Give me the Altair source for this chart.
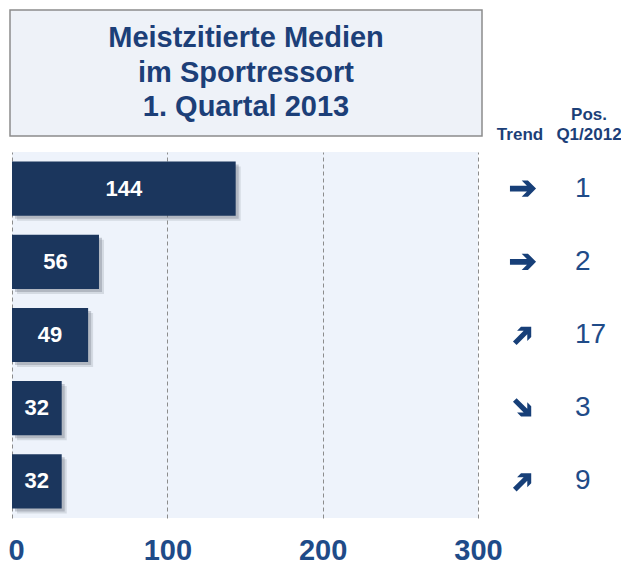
import altair as alt
import pandas as pd

# ---- data ----
ranks = ["1", "2", "3", "4", "5"]
values = [144, 56, 49, 32, 32]
trends = ["gleich", "gleich", "auf", "ab", "auf"]
pos_q1_2012 = ["1", "2", "17", "3", "9"]
tick_values = [0, 100, 200, 300]
title_lines = "Meistzitierte Medien\nim Sportressort\n1. Quartal 2013"

df = pd.DataFrame({"rank": ranks, "value": values, "trend": trends, "pos": pos_q1_2012})

NAVY = "#1B365D"
TXT = "#1C3F78"
NUM = "#1F4B88"
FONT = "Liberation Sans"

W, H = 466, 366

ARROW = ("M -1 -0.22 L 0.3 -0.22 L -0.1 -0.62 L 0.38 -0.62 L 1 0 L 0.38 0.62 "
         "L -0.1 0.62 L 0.3 0.22 L -1 0.22 Z")

y_enc = alt.Y("rank:N", sort=ranks, axis=None,
              scale=alt.Scale(paddingInner=0.26, paddingOuter=0.13))
x_scale = alt.Scale(domain=[0, 300], nice=False, zero=True)
x_axis = alt.Axis(values=tick_values, grid=True, gridDash=[4, 3], gridColor="#8c8c8c",
                  gridWidth=1, domain=False, ticks=False, labelFontSize=29,
                  labelFontWeight="bold", labelColor=NUM, labelFont=FONT,
                  labelPadding=32, labelBaseline="middle", labelFlush=False,
                  labelAlign=alt.ExprRef("datum.value === 0 ? 'left' : 'center'"),
                  labelOffset=alt.ExprRef("datum.value === 0 ? -4 : 0"),
                  title=None)
x_enc = alt.X("value:Q", scale=x_scale, axis=x_axis)

base = alt.Chart(df)

shadow1 = base.mark_bar(color="#6f7683", opacity=0.35, xOffset=3, yOffset=3).encode(
    x=x_enc, y=y_enc)
shadow2 = base.mark_bar(color="#6f7683", opacity=0.2, xOffset=5, yOffset=5).encode(
    x=x_enc, y=y_enc)

bars = base.mark_bar(color=NAVY).encode(x=x_enc, y=y_enc)

bar_labels = base.transform_calculate(mid="datum.value / 2").mark_text(
    color="white", fontWeight="bold", fontSize=22, font=FONT, baseline="middle").encode(
    x=alt.X("mid:Q", scale=x_scale, axis=x_axis), y=y_enc, text="value:Q")

arrows = base.transform_calculate(
    ang="datum.trend === 'auf' ? 315 : (datum.trend === 'ab' ? 45 : 0)",
    sz="datum.trend === 'gleich' ? 680 : 540",
).mark_point(shape=ARROW, filled=True, opacity=1, color="#173F78", strokeWidth=0).encode(
    x=alt.value(511), y=y_enc,
    angle=alt.Angle("ang:Q", scale=None),
    size=alt.Size("sz:Q", scale=None))

pos = base.mark_text(color=NUM, fontSize=28, font=FONT, baseline="middle", align="left").encode(
    x=alt.value(563), y=y_enc, text="pos:N")

one = alt.Chart(pd.DataFrame({"t": [title_lines]}))

title_box = one.mark_rect(fill="#EEF2F8", stroke="#8c8c8c", strokeWidth=1.5).encode(
    x=alt.value(-2), x2=alt.value(470), y=alt.value(-142), y2=alt.value(-16))

title_text = one.mark_text(color=TXT, fontSize=29, fontWeight="bold", font=FONT,
                           lineBreak="\n", lineHeight=34.5, align="center",
                           baseline="middle").encode(
    x=alt.value(234), y=alt.value(-114), text="t:N")

hdr_trend = one.mark_text(color=TXT, fontSize=17, fontWeight="bold", font=FONT,
                          align="center", baseline="middle").encode(
    x=alt.value(508), y=alt.value(-17), text=alt.value("Trend"))
hdr_pos = one.mark_text(color=TXT, fontSize=17, fontWeight="bold", font=FONT,
                        align="center", baseline="middle").encode(
    x=alt.value(577), y=alt.value(-37), text=alt.value("Pos."))
hdr_q = one.mark_text(color=TXT, fontSize=17, fontWeight="bold", font=FONT,
                      align="center", baseline="middle").encode(
    x=alt.value(577), y=alt.value(-17), text=alt.value("Q1/2012"))

chart = alt.layer(
    shadow2, shadow1, bars, bar_labels, arrows, pos,
    title_box, title_text, hdr_trend, hdr_pos, hdr_q,
).properties(
    width=W, height=H,
    autosize=alt.AutoSizeParams(type="none"),
    padding={"left": 4, "top": 144, "right": 143, "bottom": 55},
).configure_view(fill="#EEF3FB", stroke=None)

chart.save("out.html", embed_options={"renderer": "svg", "actions": False})
